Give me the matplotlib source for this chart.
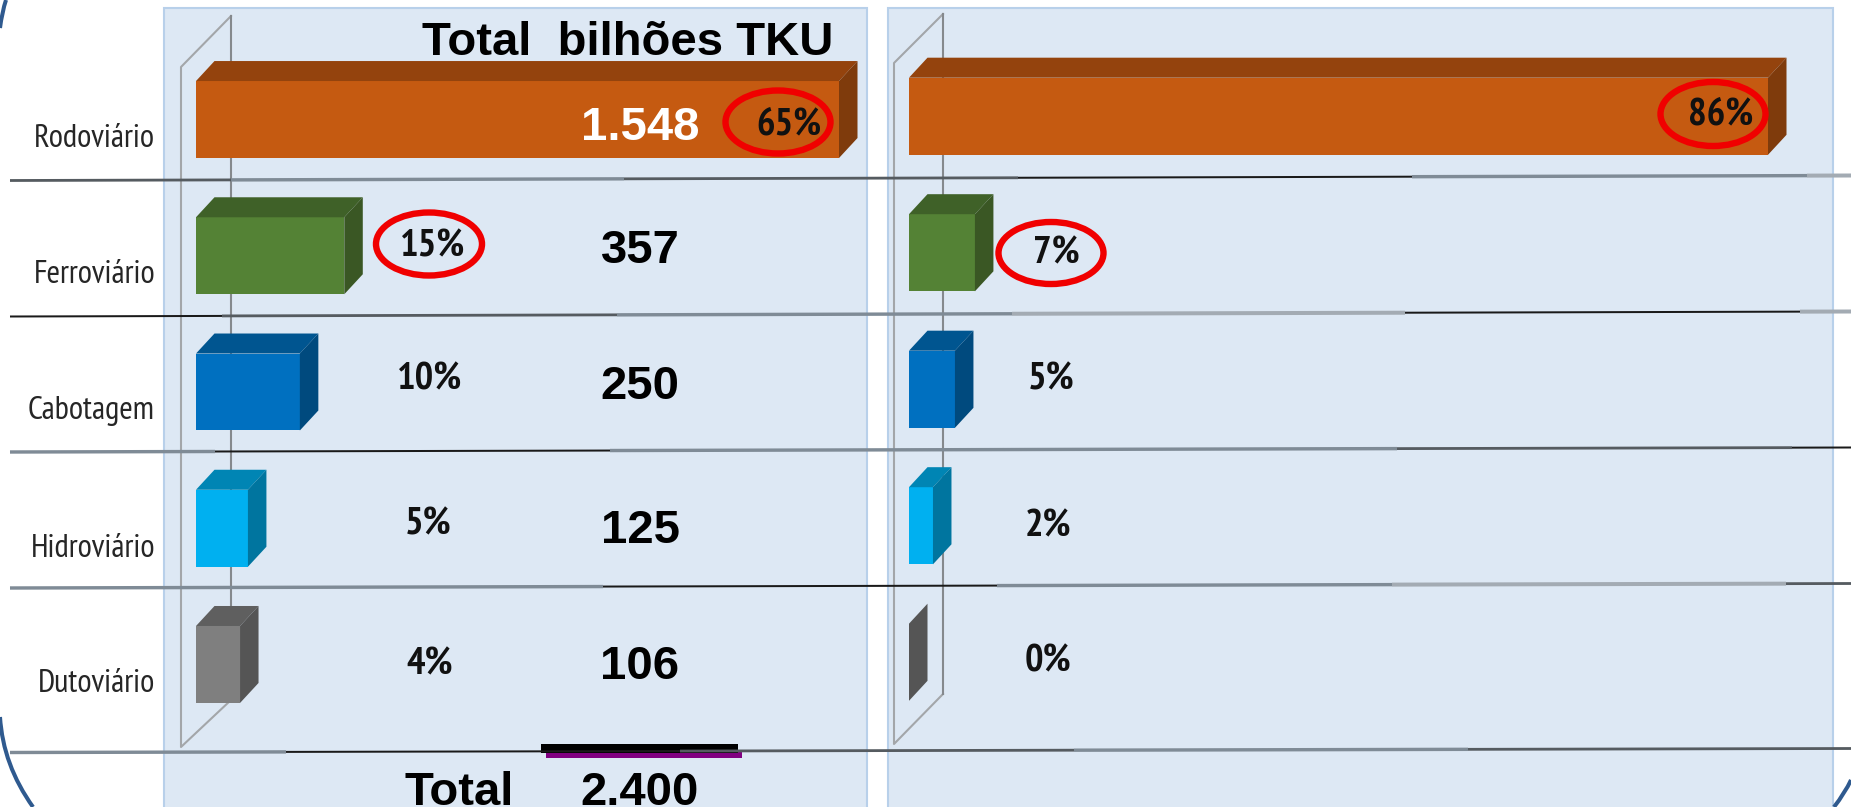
import matplotlib
matplotlib.use('Agg')
import matplotlib.pyplot as plt
from matplotlib.patches import Ellipse, Polygon, Rectangle, PathPatch
from matplotlib.path import Path

W, H = 1851, 807

# dados
categorias = ['Rodoviário', 'Ferroviário', 'Cabotagem', 'Hidroviário', 'Dutoviário']
tku = [1548, 357, 250, 125, 106]
tku_txt = ['1.548', '357', '250', '125', '106']
pct_esq = ['65%', '15%', '10%', '5%', '4%']
pct_dir = ['86%', '7%', '5%', '2%', '0%']
valores_dir = [86, 6.6, 4.6, 2.4, 0]
total_txt = '2.400'

cor_frente = ['#c55a11', '#548235', '#0070c0', '#00b0f0', '#7f7f7f']
cor_topo = ['#94430d', '#3f6128', '#005590', '#0085b4', '#5f5f5f']
cor_lado = ['#7f3b0c', '#3a5724', '#004a7e', '#00759f', '#555555']

# estilos das linhas horizontais: preto, escuro, cinza, claro
estilo = {'k': ('#1a1a1a', 2.0), 'e': ('#555b60', 2.8), 'c': ('#7f8b96', 3.4), 'l': ('#a3abb3', 4.0)}
linhas = [
    (180.5, 175.5, [10, 231, 624, 1018, 1412, 1807, 1851], 'ecekcl'),
    (316.5, 311.5, [10, 222, 617, 1012, 1405, 1800, 1851], 'keclkl'),
    (452.0, 447.5, [10, 215, 610, 1004, 1397, 1792, 1851], 'ckccek'),
    (588.0, 583.5, [10, 209, 603, 997, 1392, 1786, 1851], 'cckcle'),
    (752.5, 748.5, [10, 286, 680, 1074, 1468, 1851], 'ckece'),
]


def px_axes(fig, x0, y0, x1, y1, zorder):
    # eixos posicionados em pixels (y para baixo)
    ax = fig.add_axes([x0 / W, 1 - y1 / H, (x1 - x0) / W, (y1 - y0) / H], zorder=zorder)
    ax.patch.set_alpha(0)
    ax.axis('off')
    return ax


def barras_3d(ax, valores, dx_px, dy_px, px_x, px_y):
    # barra frontal + topo e lado para dar o efeito 3D
    dx = dx_px / px_x
    dy = dy_px / px_y
    alt = 0.565
    ax.barh(range(len(valores)), valores, height=alt, color=cor_frente, clip_on=False)
    for i, v in enumerate(valores):
        t = i - alt / 2
        b = i + alt / 2
        ax.add_patch(Polygon([(0, t), (dx, t - dy), (v + dx, t - dy), (v, t)],
                             color=cor_topo[i], lw=0, clip_on=False))
        ax.add_patch(Polygon([(v, t), (v + dx, t - dy), (v + dx, b - dy), (v, b)],
                             color=cor_lado[i], lw=0, clip_on=False))


fig = plt.figure(figsize=(W / 100, H / 100), dpi=100, facecolor='white')

fundo = px_axes(fig, 0, 0, W, H, 0)
fundo.set_xlim(0, W)
fundo.set_ylim(H, 0)

# paineis
fundo.add_patch(Rectangle((164, 8), 703, H, fc='#dde8f4', ec='#b8d0ea', lw=1.5))
fundo.add_patch(Rectangle((888, 8), 945, H, fc='#dde8f4', ec='#b8d0ea', lw=1.5))

# parede do grafico 3D
for x_f, x_t, y_a, y_b, y_c, y_d in [(181, 231, 67, 16, 747, 700), (894, 943, 63, 14, 744, 694)]:
    fundo.plot([x_t, x_f, x_f, x_t], [y_b, y_a, y_c, y_d], color='#a3a6a9', lw=1.5)
    fundo.plot([x_t, x_t], [y_b, y_d], color='#85898d', lw=1.5)

# barras esquerda: eixo em TKU
ax_esq = px_axes(fig, 196, 51.4, 839, 732.6, 1)
ax_esq.set_xlim(0, max(tku))
ax_esq.set_ylim(4.5, -0.5)
barras_3d(ax_esq, tku, 18.5, 20, 643 / max(tku), 136.25)

# barras direita: eixo em %
ax_dir = px_axes(fig, 909, 48, 1768, 730.5, 1)
ax_dir.set_xlim(0, max(valores_dir))
ax_dir.set_ylim(4.5, -0.5)
barras_3d(ax_dir, valores_dir, 18.5, 20, 859 / max(valores_dir), 136.5)

topo = px_axes(fig, 0, 0, W, H, 2)
topo.set_xlim(0, W)
topo.set_ylim(H, 0)

for y0, y1, xs, cores in linhas:
    for i, c in enumerate(cores):
        f = lambda x: y0 + (y1 - y0) * (x - xs[0]) / (xs[-1] - xs[0])
        topo.plot([xs[i], xs[i + 1]], [f(xs[i]), f(xs[i + 1])], color=estilo[c][0],
                  lw=estilo[c][1] * 0.72, solid_capstyle='butt')

# textos
narrow = ['PT Sans Narrow', 'Roboto Condensed', 'Liberation Sans']
bold = 'Liberation Sans'

y_cat = [139, 275, 411, 549, 684]
for nome, y in zip(categorias, y_cat):
    topo.text(155, y, nome, ha='right', va='center', family=narrow, fontsize=23.5, color='#262626')

x_pct = [789, 433, 430, 428, 430]
y_pct = [125, 247, 380, 525, 665]
for s, x, y in zip(pct_esq, x_pct, y_pct):
    topo.text(x, y, s, ha='center', va='center', family=narrow, fontsize=28, fontweight='bold', color='#111111')

x_pct_d = [1721, 1056, 1051, 1048, 1048]
y_pct_d = [115, 254, 380, 527, 662]
for s, x, y in zip(pct_dir, x_pct_d, y_pct_d):
    topo.text(x, y, s, ha='center', va='center', family=narrow, fontsize=28, fontweight='bold', color='#111111')

y_tku = [128, 251, 387, 531, 667]
for i, (s, y) in enumerate(zip(tku_txt, y_tku)):
    topo.text(640, y, s, ha='center', va='center', family=bold, fontsize=34, fontweight='bold',
              color='white' if i == 0 else 'black')

topo.text(628, 43, 'Total  bilhões TKU', ha='center', va='center', family=bold, fontsize=34, fontweight='bold')
topo.text(459, 805, 'Total', ha='center', va='baseline', family=bold, fontsize=34, fontweight='bold')
topo.text(640, 805, total_txt, ha='center', va='baseline', family=bold, fontsize=34, fontweight='bold')

# circulos vermelhos
for x, y, w, h in [(778, 122, 111, 69), (429, 244, 112, 69), (1713, 114, 111, 70), (1051, 253, 111, 68)]:
    topo.add_patch(Ellipse((x, y), w - 6, h - 6, fc='none', ec='#f00000', lw=4.6))

# traco do total
topo.add_patch(Rectangle((546, 750), 196, 8, fc='#800080', ec='none'))
topo.add_patch(Rectangle((541, 744), 197, 9, fc='black', ec='none'))

# borda arredondada do slide
for pts in [[(6, 0), (2, 12), (0, 28)], [(0, 717), (3, 765), (33, 807)], [(1834, 807), (1845, 793), (1851, 780)]]:
    topo.add_patch(PathPatch(Path(pts, [Path.MOVETO, Path.CURVE3, Path.CURVE3]), fc='none', ec='#2f5a8f', lw=2.9))

fig.savefig('out.png', dpi=100)
